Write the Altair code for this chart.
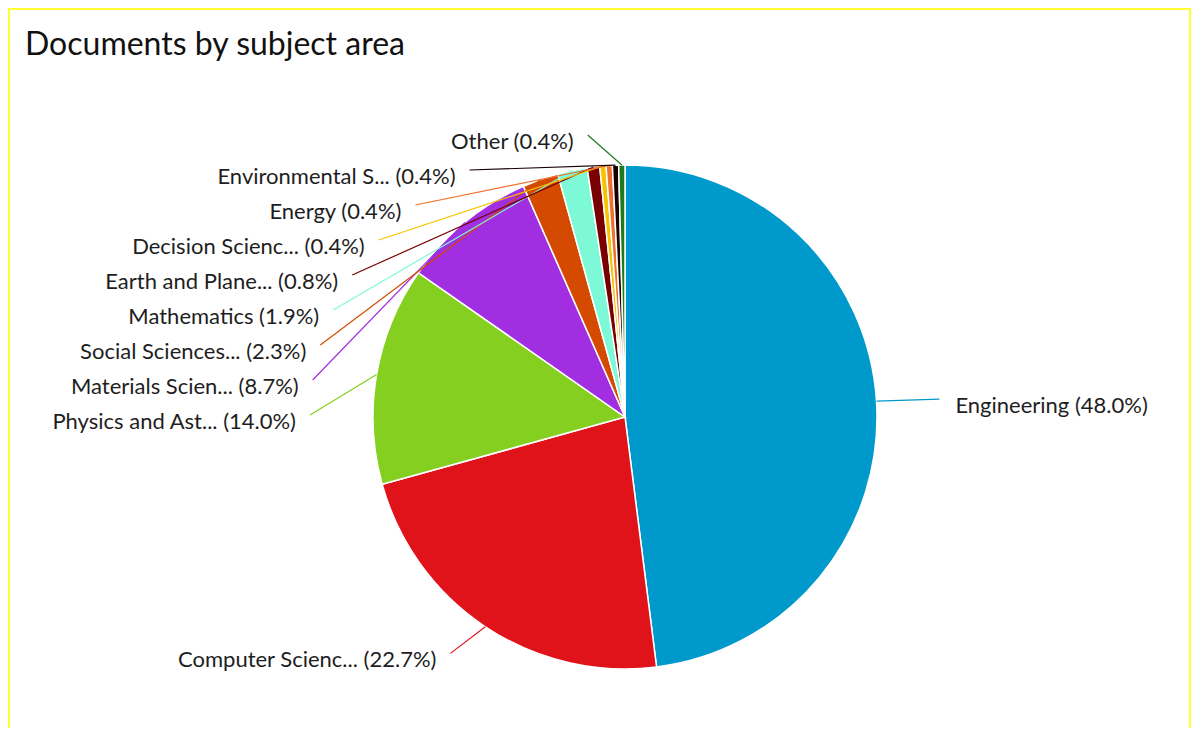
import math
import altair as alt
import pandas as pd

title_text = "Documents by subject area"
labels = ["Engineering", "Computer Scienc...", "Physics and Ast...", "Materials Scien...",
          "Social Sciences...", "Mathematics", "Earth and Plane...", "Decision Scienc...",
          "Energy", "Environmental S...", "Other"]
values = [48.0, 22.7, 14.0, 8.7, 2.3, 1.9, 0.8, 0.4, 0.4, 0.4, 0.4]
colors = ["#0099CC", "#E0131B", "#84CF1F", "#A12EE0", "#D44A00", "#7EF9D8",
          "#780000", "#F5C400", "#F2702E", "#1A0000", "#1F7A1F"]

# layout constants (pixels)
W, H = 1183, 720
CX, CY = 617, 409          # pie centre inside the view
R = 252                    # pie radius
A, B = 315, 284            # label ellipse
SPACING, TOP = 35, -282

rows = []
cum = 0.0
total = sum(values)
for i, (lab, v) in enumerate(zip(labels, values)):
    mid = (cum + v / 2) / total * 2 * math.pi
    cum += v
    rows.append(dict(label=lab, value=v, order=i,
                     text=f"{lab} ({v:.1f}%)",
                     side="right" if math.sin(mid) > 0 else "left",
                     sx=R * math.sin(mid), sdown=-R * math.cos(mid),
                     nat=-B * math.cos(mid)))

for side in ("left", "right"):
    grp = sorted([r for r in rows if r["side"] == side], key=lambda r: r["nat"])
    prev = None
    for r in grp:
        y = max(r["nat"], TOP if prev is None else prev + SPACING)
        r["edown"] = y
        prev = y
        xx = A * math.sqrt(max(0.0, 1 - (y / B) ** 2))
        r["ex"] = xx if side == "right" else -xx

df = pd.DataFrame(rows)
df["sy"] = -df["sdown"]
df["ey"] = -df["edown"]
df["cx"] = 0.0
df["cy"] = 0.0

xs = alt.Scale(domain=[-CX, W - CX], nice=False, zero=False)
ys = alt.Scale(domain=[-(H - CY), CY], nice=False, zero=False)
col = alt.Color("label:N", scale=alt.Scale(domain=labels, range=colors), legend=None)

base = alt.Chart(df)

pie = base.mark_arc(radius=R, stroke="white", strokeWidth=1.5).encode(
    x=alt.X("cx:Q", scale=xs, axis=None),
    y=alt.Y("cy:Q", scale=ys, axis=None),
    theta=alt.Theta("value:Q", stack=True),
    order=alt.Order("order:Q"),
    color=col,
)

lines = base.mark_rule(strokeWidth=1.2).encode(
    x=alt.X("sx:Q", scale=xs, axis=None),
    y=alt.Y("sy:Q", scale=ys, axis=None),
    x2="ex:Q", y2="ey:Q",
    color=col,
)

font = "Lato"
FS = 22
left_txt = base.transform_filter(alt.datum.side == "left").mark_text(
    align="right", baseline="middle", dx=-14, dy=7, fontSize=FS, font=font, color="#1e1e1e"
).encode(
    x=alt.X("ex:Q", scale=xs, axis=None),
    y=alt.Y("ey:Q", scale=ys, axis=None),
    text="text:N",
)
right_txt = base.transform_filter(alt.datum.side == "right").mark_text(
    align="left", baseline="middle", dx=16, dy=7, fontSize=FS, font=font, color="#1e1e1e"
).encode(
    x=alt.X("ex:Q", scale=xs, axis=None),
    y=alt.Y("ey:Q", scale=ys, axis=None),
    text="text:N",
)

title = alt.Chart(pd.DataFrame({"t": [title_text]})).mark_text(
    align="left", baseline="middle", fontSize=32, font=font, color="#111111"
).encode(x=alt.value(17), y=alt.value(37), text="t:N")

border_col = "#ffff33"
b_top = alt.Chart(pd.DataFrame({"k": [0]})).mark_rule(color=border_col, strokeWidth=2).encode(
    x=alt.value(0), x2=alt.value(W), y=alt.value(1))
b_left = alt.Chart(pd.DataFrame({"k": [0]})).mark_rule(color=border_col, strokeWidth=2).encode(
    x=alt.value(1), y=alt.value(0), y2=alt.value(H))
b_right = alt.Chart(pd.DataFrame({"k": [0]})).mark_rule(color=border_col, strokeWidth=2).encode(
    x=alt.value(W - 1), y=alt.value(0), y2=alt.value(H))

chart = alt.layer(pie, lines, left_txt, right_txt, title, b_top, b_left, b_right).properties(
    width=W, height=H, padding=0, autosize="none", background="white"
).configure_view(stroke=None)

chart.save("out.html", embed_options={"renderer": "svg", "actions": False})
